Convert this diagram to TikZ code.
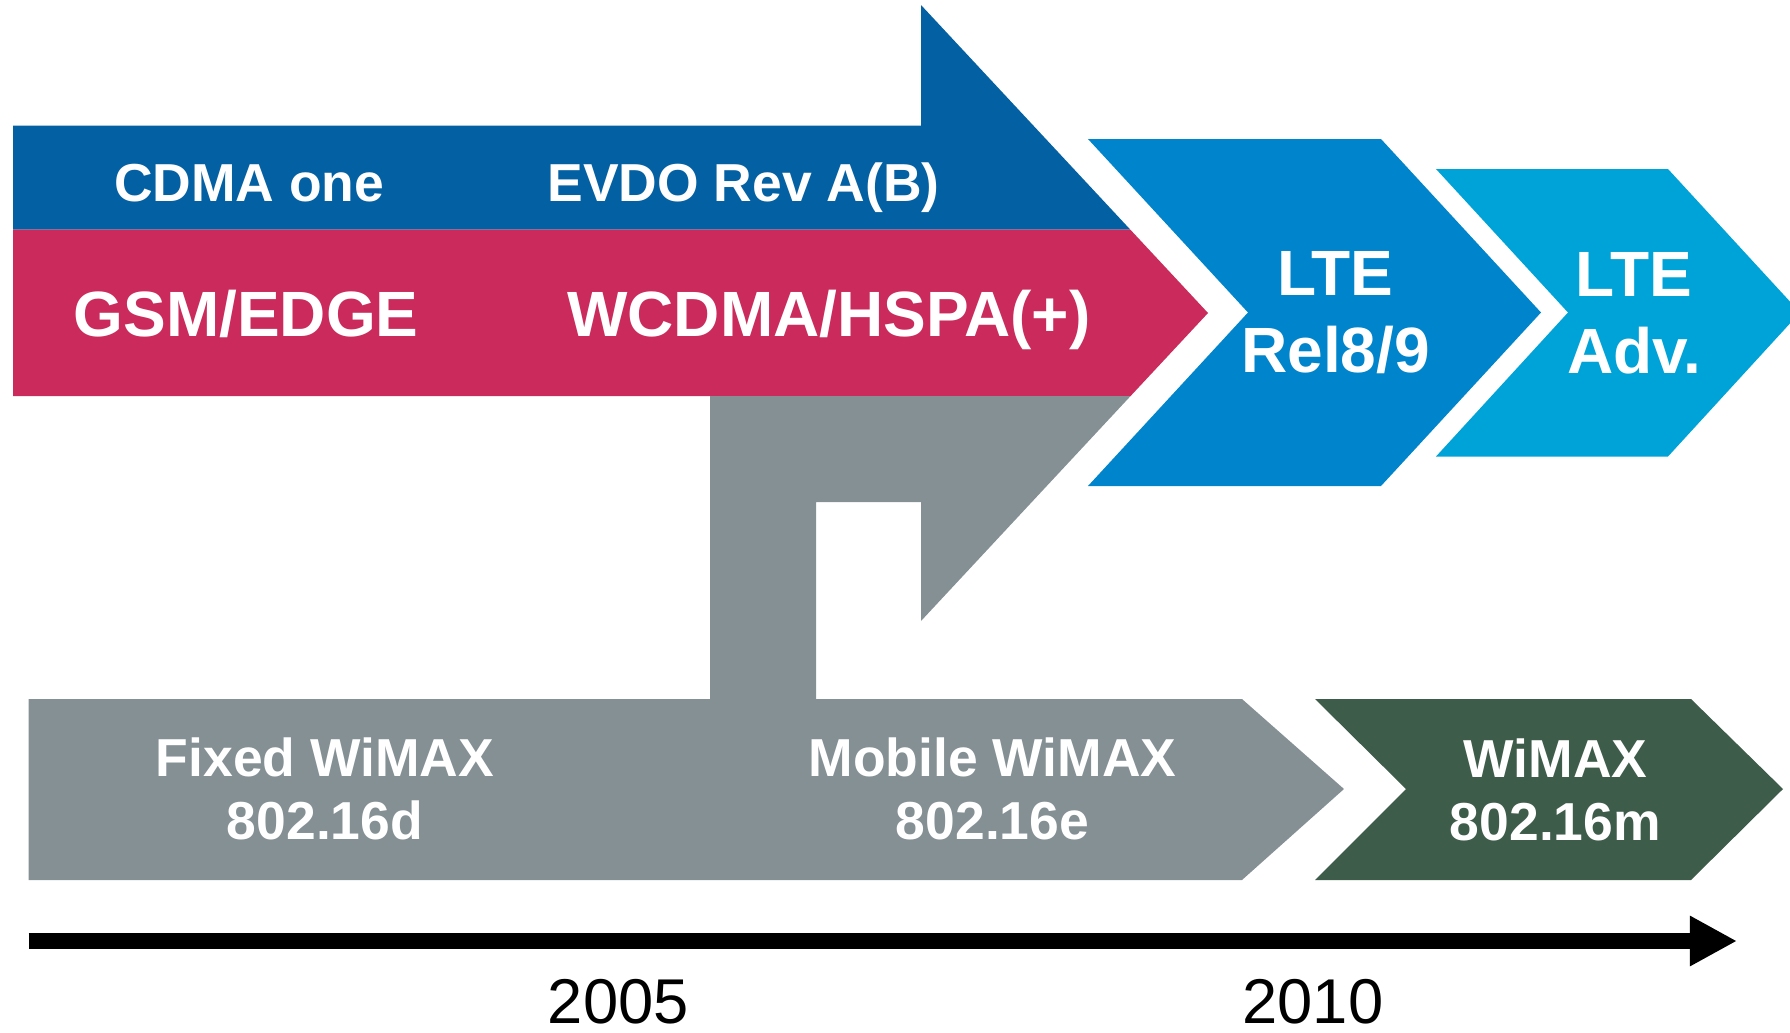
\documentclass[tikz,border=0pt]{standalone}
\usepackage{fontspec}
\setmainfont{Liberation Sans}
\usepackage{xcolor}
\usetikzlibrary{arrows.meta}
\definecolor{cdmablue}{HTML}{0361A3}
\definecolor{gsmred}{HTML}{CB2A5C}
\definecolor{wimaxgrey}{HTML}{859095}
\definecolor{lteblue}{HTML}{0084CB}
\definecolor{advblue}{HTML}{00A3D8}
\definecolor{wimaxgreen}{HTML}{3E5C4A}
\begin{document}
\begin{tikzpicture}[x=0.01cm, y=-0.01cm,
    bandsmall/.style={text=white, font=\bfseries\fontsize{15.2}{17.9}\selectfont, inner sep=0pt, align=center},
    bandbig/.style={text=white, font=\bfseries\fontsize{18.2}{21.9}\selectfont, inner sep=0pt, align=center},
    yeartext/.style={font=\fontsize{18}{21}\selectfont, inner sep=0pt}]
            \useasboundingbox (0,0) rectangle (1790,1033);
            % 3GPP2 and 3GPP bands of the big arrow
            \fill[cdmablue] (13,125.6) -- (921,125.6) -- (921,5) -- (1130.2,229.5) -- (13,229.5) -- cycle;
            \fill[gsmred] (13,229.5) -- (1130.2,229.5) -- (1208,313) -- (1130.6,396) -- (13,396) -- cycle;
            % WiMAX arrow and its stem
            \fill[wimaxgrey] (710,396) -- (1130.6,396) -- (921,621) -- (921,502) -- (816,502) -- (816,699) -- (1242,699) -- (1344,789) -- (1242,880) -- (28.5,880) -- (28.5,699) -- (710,699) -- cycle;
            \fill[lteblue] (1088,139) -- (1381,139) -- (1541,312.5) -- (1381,486) -- (1088,486) -- (1248,312.5) -- cycle;
            \fill[advblue] (1436,169) -- (1668,169) -- (1800,312.5) -- (1668,456.5) -- (1436,456.5) -- (1568,312.5) -- cycle;
            \fill[wimaxgreen] (1315,699) -- (1691,699) -- (1783,789) -- (1691,880) -- (1315,880) -- (1406,789) -- cycle;
            \node[bandsmall, anchor=base] (cdma) at (249.3,201) {CDMA one};
            \node[bandsmall, anchor=base] (evdo) at (743.7,201) {EVDO Rev A(B)};
            \node[bandbig, anchor=base] (gsm) at (246,336.7) {GSM/EDGE};
            \node[bandbig, anchor=base] (wcdma) at (828.8,336.7) {WCDMA/HSPA(+)};
            \node[bandbig] (lte) at (1335.5,313) {LTE\\Rel8/9};
            \node[bandbig] (adv) at (1634,313) {LTE\\Adv.};
            \node[bandsmall] (fixed) at (325,789) {Fixed WiMAX\\802.16d};
            \node[bandsmall] (mobile) at (992.5,789) {Mobile WiMAX\\802.16e};
            \node[bandsmall] (wimaxm) at (1555.4,789.5) {WiMAX\\802.16m};
            % time axis
            \coordinate (t0) at (28.5,941);
            \coordinate (t1) at (1737,941);
            \draw[line width=0.154cm, -{Triangle[length=0.47cm, width=0.47cm]}] (t0) -- (t1);
            \node[yeartext, anchor=base] (y2005) at (618.3,1023) {2005};
            \node[yeartext, anchor=base] (y2010) at (1313,1023) {2010};
        \end{tikzpicture}
\end{document}
